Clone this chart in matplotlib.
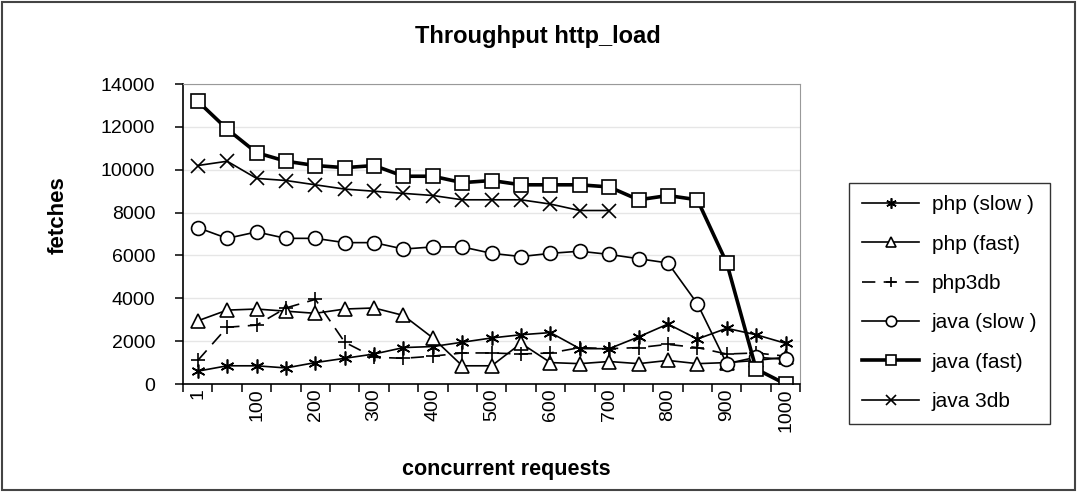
import matplotlib
matplotlib.use("Agg")
import matplotlib.pyplot as plt
from matplotlib.patches import Rectangle
import numpy as np

plt.rcParams['font.family'] = ['Liberation Sans', 'DejaVu Sans']

# data
requests = [1] + list(range(50, 1001, 50))
php_slow = [600, 850, 850, 750, 1000, 1200, 1400, 1700, 1750, 1950, 2150,
            2300, 2400, 1650, 1650, 2200, 2800, 2100, 2600, 2300, 1900]
php_fast = [2950, 3450, 3500, 3400, 3300, 3500, 3550, 3200, 2150, 850, 850,
            1900, 1000, 950, 1050, 950, 1100, 950, 1000, 1100, 1250]
php3db = [1100, 2650, 2750, 3550, 3950, 1950, 1250, 1200, 1300, 1450, 1450,
          1400, 1450, 1700, 1650, 1700, 1850, 1700, 1400, 1450, 1300]
java_slow = [7300, 6800, 7100, 6800, 6800, 6600, 6600, 6300, 6400, 6400, 6100,
             5950, 6100, 6200, 6050, 5850, 5650, 3750, 950, 1250, 1150]
java_fast = [13200, 11900, 10800, 10400, 10200, 10100, 10200, 9700, 9700, 9400, 9500,
             9300, 9300, 9300, 9200, 8600, 8800, 8600, 5650, 700, 0]
java_3db = [10200, 10400, 9600, 9500, 9300, 9100, 9000, 8900, 8800, 8600, 8600,
            8600, 8400, 8100, 8100, None, None, None, None, None, None]

x = np.arange(len(requests))

fig = plt.figure(figsize=(10.77, 4.92), dpi=100)
ax = fig.add_axes([0.170, 0.2195, 0.573, 0.6095])

ms = 10
common = dict(color='black', markerfacecolor='white', markeredgecolor='black',
              markersize=ms, markeredgewidth=1.2)

ax.plot(x, php_slow, lw=1.2, marker=(6, 2, 0), label='php (slow )', **common)
ax.plot(x, php_fast, lw=1.2, marker='^', label='php (fast)', **common)
ax.plot(x, php3db, lw=1.2, marker='+', dashes=(8, 5), label='php3db', **common)
ax.plot(x, java_slow, lw=1.2, marker='o', label='java (slow )', **common)
ax.plot(x, java_fast, lw=2.6, marker='s', label='java (fast)', **common)
j3 = np.array([np.nan if v is None else v for v in java_3db], dtype=float)
ax.plot(x, j3, lw=1.2, marker='x', label='java 3db', **common)

# axes look
ax.set_xlim(-0.5, len(requests) - 0.5)
ax.set_ylim(0, 14000)
ax.set_yticks(range(0, 14001, 2000))
ax.yaxis.grid(True, color='#e6e6e6', lw=1)
ax.set_axisbelow(True)
for s in ['top', 'right']:
    ax.spines[s].set_color('#999999')
for s in ['left', 'bottom']:
    ax.spines[s].set_color('black')
    ax.spines[s].set_linewidth(1.2)

ax.set_xticks(x)
ax.set_xticklabels([str(r) if i % 2 == 0 else '' for i, r in enumerate(requests)],
                   rotation=90, fontsize=14)
ax.tick_params(axis='x', length=0, pad=3)
ax.set_xticks(np.arange(-0.5, len(requests), 1), minor=True)
ax.tick_params(axis='x', which='minor', length=6, width=1.1, direction='out')
ax.tick_params(axis='y', length=6, width=1.1, labelsize=14, pad=14)

fig.text(0.499, 0.925, 'Throughput http_load', ha='center', va='center',
         fontsize=17, fontweight='bold')
fig.text(0.47, 0.045, 'concurrent requests', ha='center', va='center',
         fontsize=15.5, fontweight='bold')
fig.text(0.054, 0.563, 'fetches', ha='center', va='center', rotation=90,
         fontsize=16, fontweight='bold')

leg = fig.legend(loc='upper left', bbox_to_anchor=(0.779, 0.65),
                 bbox_transform=fig.transFigure, fontsize=15, frameon=True,
                 fancybox=False, edgecolor='black', handlelength=2.75,
                 labelspacing=0.98, borderpad=0.6, handletextpad=0.6,
                 markerscale=0.75)
leg.get_frame().set_linewidth(1.0)

# outer border
fig.patches.append(Rectangle((0.002, 0.004), 0.996, 0.992, transform=fig.transFigure,
                             fill=False, edgecolor='#444444', lw=1.5))

fig.savefig('out.png', dpi=100)
